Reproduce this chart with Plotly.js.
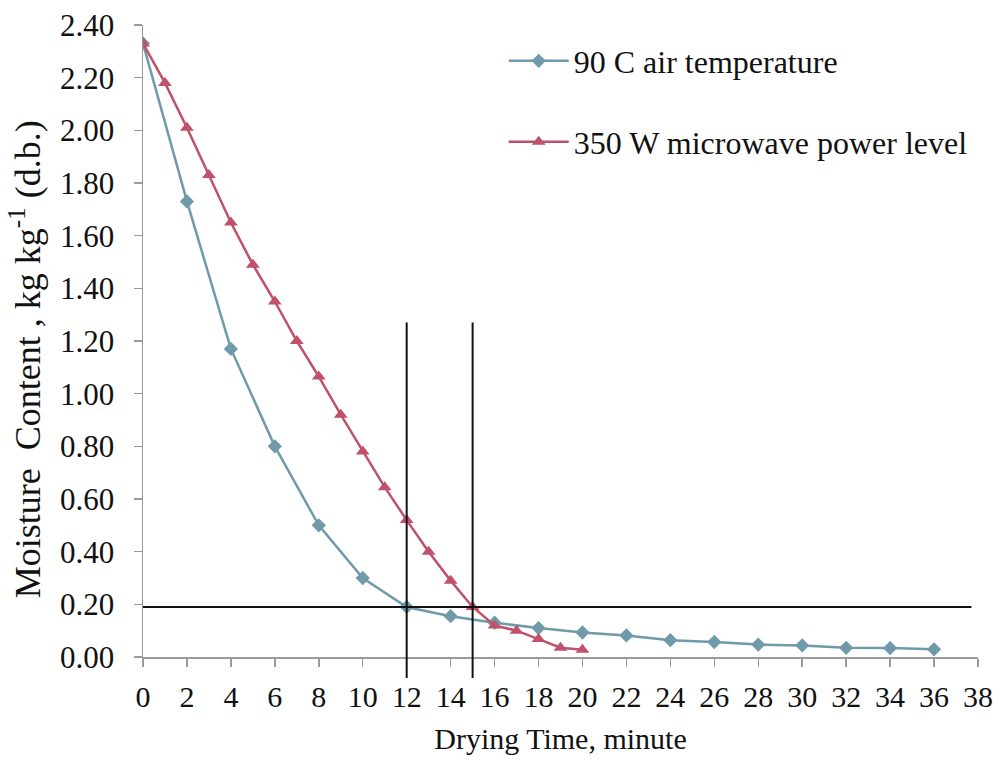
<!DOCTYPE html>
<html>
<head>
<meta charset="utf-8">
<script src="https://cdn.plot.ly/plotly-3.0.1.min.js"></script>
<style>
  html, body { margin: 0; padding: 0; background: #ffffff; }
  #chart { width: 1007px; height: 779px; }
</style>
</head>
<body>
<div id="chart"></div>
<script>
// ---- data ----
var airTime = [0, 2, 4, 6, 8, 10, 12, 14, 16, 18, 20, 22, 24, 26, 28, 30, 32, 34, 36];
var airMoisture = [2.33, 1.73, 1.17, 0.80, 0.50, 0.30, 0.19, 0.155, 0.13, 0.11, 0.093, 0.082, 0.064, 0.057, 0.047, 0.044, 0.035, 0.034, 0.029];

var mwTime = [0, 1, 2, 3, 4, 5, 6, 7, 8, 9, 10, 11, 12, 13, 14, 15, 16, 17, 18, 19, 20];
var mwMoisture = [2.33, 2.18, 2.01, 1.83, 1.65, 1.49, 1.35, 1.20, 1.065, 0.92, 0.78, 0.645, 0.52, 0.40, 0.29, 0.19, 0.12, 0.10, 0.068, 0.035, 0.028];

var seriesNames = ['90 C air temperature', '350 W microwave power level'];
var xTickVals = [0, 2, 4, 6, 8, 10, 12, 14, 16, 18, 20, 22, 24, 26, 28, 30, 32, 34, 36, 38];
var yTickVals = [0, 0.2, 0.4, 0.6, 0.8, 1.0, 1.2, 1.4, 1.6, 1.8, 2.0, 2.2, 2.4];
var xRange = [0, 38];
var yRange = [0, 2.4];

// reference lines (data units)
var refMoisture = 0.19;
var refLineXEnd = 37.7;
var refTimes = [12, 15];
var refVertTop = 1.27;
var refVertBottom = -0.08;

var blue = '#6f9aa9';
var red = '#c0516a';
var font = "'Liberation Serif', 'Times New Roman', Times, serif";
var NB = '\u00a0';

var traces = [
  {
    x: airTime, y: airMoisture, name: seriesNames[0], type: 'scatter', mode: 'lines+markers',
    line: {color: blue, width: 2.5},
    marker: {symbol: 'diamond', size: 11, color: blue},
    legend: 'legend'
  },
  {
    x: mwTime, y: mwMoisture, name: seriesNames[1], type: 'scatter', mode: 'lines+markers',
    line: {color: red, width: 2.5},
    marker: {symbol: 'triangle-up', size: 12, color: red},
    legend: 'legend2'
  }
];

function domFrac(v) { return (v - yRange[0]) / (yRange[1] - yRange[0]); }

var shapes = [
  {type: 'line', xref: 'x', yref: 'y', x0: xRange[0], x1: refLineXEnd, y0: refMoisture, y1: refMoisture,
   line: {color: '#111111', width: 2}}
];
refTimes.forEach(function (t) {
  shapes.push({type: 'line', xref: 'x', yref: 'y domain', x0: t, x1: t,
    y0: domFrac(refVertBottom), y1: domFrac(refVertTop),
    line: {color: '#111111', width: 2}});
});

var yTitle = 'Moisture' + NB + NB + 'Content' + NB + ', kg kg<sup>-1</sup> (d.b.)';

var layout = {
  width: 1007, height: 779,
  margin: {l: 143, r: 29, t: 25, b: 122},
  paper_bgcolor: '#ffffff', plot_bgcolor: '#ffffff',
  font: {family: font, color: '#111111', size: 30},
  showlegend: true,
  xaxis: {
    range: xRange, tickmode: 'array', tickvals: xTickVals,
    showgrid: false, zeroline: false,
    showline: true, linecolor: '#9a9a9a', linewidth: 1.5,
    ticks: 'outside', ticklen: 8, tickcolor: '#9a9a9a', tickwidth: 1.5,
    tickfont: {family: font, size: 30, color: '#111111'},
    ticklabelstandoff: 4,
    title: {text: 'Drying Time, minute', font: {family: font, size: 30, color: '#111111'}, standoff: 16}
  },
  yaxis: {
    range: yRange, tickmode: 'array', tickvals: yTickVals, tickformat: '.2f',
    showgrid: false, zeroline: false,
    showline: true, linecolor: '#9a9a9a', linewidth: 1.5,
    ticks: 'outside', ticklen: 8, tickcolor: '#9a9a9a', tickwidth: 1.5,
    tickfont: {family: font, size: 31, color: '#111111'},
    ticklabelstandoff: 13
  },
  annotations: [
    {text: yTitle, xref: 'paper', yref: 'paper', x: -0.141, y: 0.4715,
     xanchor: 'center', yanchor: 'middle', textangle: -90, showarrow: false,
     font: {family: font, size: 36, color: '#111111'}}
  ],
  legend: {
    x: 0.432, y: 0.943, xanchor: 'left', yanchor: 'middle',
    bgcolor: 'rgba(0,0,0,0)', borderwidth: 0,
    font: {family: font, size: 32, color: '#111111'}, itemwidth: 60
  },
  legend2: {
    x: 0.432, y: 0.815, xanchor: 'left', yanchor: 'middle',
    bgcolor: 'rgba(0,0,0,0)', borderwidth: 0,
    font: {family: font, size: 32, color: '#111111'}, itemwidth: 60
  },
  shapes: shapes
};

Plotly.newPlot('chart', traces, layout, {displayModeBar: false, staticPlot: true});
</script>
</body>
</html>
